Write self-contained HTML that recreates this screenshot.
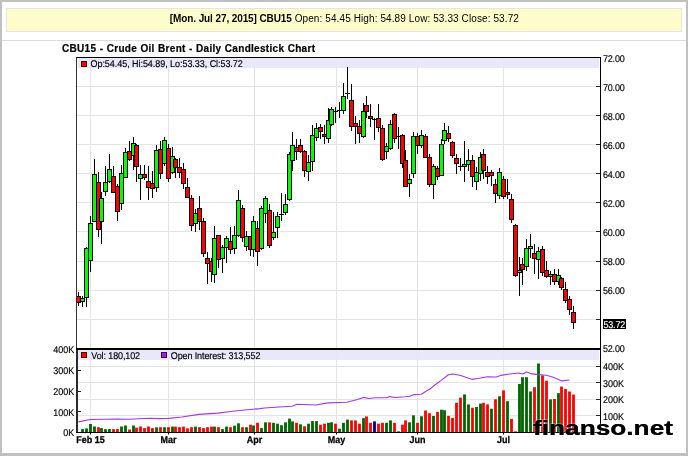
<!DOCTYPE html>
<html><head><meta charset="utf-8">
<style>
html,body{margin:0;padding:0;background:#fff;}
body{width:688px;height:456px;overflow:hidden;position:relative;font-family:"Liberation Sans",Arial,sans-serif;}
.fr{position:absolute;background:#c0c0c0;}
#info{position:absolute;left:6px;top:8px;width:676px;height:24px;box-sizing:border-box;background:#fffccc;border:1px solid #e4e4e4;text-align:left;padding-left:162.8px;font-size:10px;line-height:20.4px;letter-spacing:0.1px;color:#000;white-space:nowrap;}
#sep{position:absolute;left:2px;top:40px;width:684px;height:1px;background:#ddd;}
#info b{letter-spacing:-0.1px}
svg{position:absolute;left:0;top:0;}
text{font-family:"Liberation Sans",Arial,sans-serif;}
</style></head><body>
<div class="fr" style="left:0;top:0;width:688px;height:2px"></div><div class="fr" style="left:0;top:0;width:1.5px;height:456px"></div><div class="fr" style="left:685.8px;top:0;width:2.2px;height:456px"></div><div class="fr" style="left:0;top:453.4px;width:688px;height:2.6px"></div>
<div id="info"><b>[Mon. Jul 27, 2015] CBU15</b> Open: 54.45 High: 54.89 Low: 53.33 Close: 53.72</div>
<div id="sep"></div>
<svg width="688" height="456" viewBox="0 0 688 456">
<text x="62" y="51.7" font-size="10" font-weight="bold" stroke="#000" stroke-width="0.2" style="word-spacing:0.3px;letter-spacing:0.3px">CBU15 - Crude Oil Brent - Daily Candlestick Chart</text>
<rect x="77" y="86" width="523" height="1" fill="#e4e4e4"/>
<rect x="77" y="115" width="523" height="1" fill="#e4e4e4"/>
<rect x="77" y="144" width="523" height="1" fill="#e4e4e4"/>
<rect x="77" y="173" width="523" height="1" fill="#e4e4e4"/>
<rect x="77" y="202" width="523" height="1" fill="#e4e4e4"/>
<rect x="77" y="231" width="523" height="1" fill="#e4e4e4"/>
<rect x="77" y="261" width="523" height="1" fill="#e4e4e4"/>
<rect x="77" y="290" width="523" height="1" fill="#e4e4e4"/>
<rect x="77" y="319" width="523" height="1" fill="#e4e4e4"/>
<rect x="90" y="58" width="1" height="290" fill="#e4e4e4"/>
<rect x="90" y="350" width="1" height="82" fill="#e4e4e4"/>
<rect x="168" y="58" width="1" height="290" fill="#e4e4e4"/>
<rect x="168" y="350" width="1" height="82" fill="#e4e4e4"/>
<rect x="254" y="58" width="1" height="290" fill="#e4e4e4"/>
<rect x="254" y="350" width="1" height="82" fill="#e4e4e4"/>
<rect x="336" y="58" width="1" height="290" fill="#e4e4e4"/>
<rect x="336" y="350" width="1" height="82" fill="#e4e4e4"/>
<rect x="417" y="58" width="1" height="290" fill="#e4e4e4"/>
<rect x="417" y="350" width="1" height="82" fill="#e4e4e4"/>
<rect x="503" y="58" width="1" height="290" fill="#e4e4e4"/>
<rect x="503" y="350" width="1" height="82" fill="#e4e4e4"/>
<rect x="77" y="415" width="523" height="1" fill="#e4e4e4"/>
<rect x="77" y="399" width="523" height="1" fill="#e4e4e4"/>
<rect x="77" y="382" width="523" height="1" fill="#e4e4e4"/>
<rect x="77" y="366" width="523" height="1" fill="#e4e4e4"/>
<rect x="78" y="58" width="521" height="10" fill="#e6e6fa" fill-opacity="0.9"/>
<rect x="78" y="350" width="521" height="10" fill="#e6e6fa" fill-opacity="0.9"/>
<!--CANDLES-->
<rect x="78" y="292" width="1" height="14" fill="#000"/>
<rect x="76.5" y="296.5" width="4" height="6" fill="#ff0000" stroke="#000" stroke-width="1"/>
<rect x="82" y="296" width="1" height="11" fill="#000"/>
<rect x="80.5" y="298.5" width="4" height="3" fill="#00ff00" stroke="#000" stroke-width="1"/>
<rect x="86" y="247" width="1" height="60" fill="#000"/>
<rect x="84.5" y="248.5" width="4" height="49" fill="#00ff00" stroke="#000" stroke-width="1"/>
<rect x="90" y="216" width="1" height="56" fill="#000"/>
<rect x="88.5" y="223.5" width="4" height="37" fill="#00ff00" stroke="#000" stroke-width="1"/>
<rect x="94" y="159" width="1" height="63" fill="#000"/>
<rect x="92.5" y="174.5" width="4" height="47" fill="#00ff00" stroke="#000" stroke-width="1"/>
<rect x="98" y="172" width="1" height="65" fill="#000"/>
<rect x="96.5" y="182.5" width="4" height="47" fill="#ff0000" stroke="#000" stroke-width="1"/>
<rect x="101" y="192" width="1" height="52" fill="#000"/>
<rect x="99.5" y="198.5" width="4" height="23" fill="#00ff00" stroke="#000" stroke-width="1"/>
<rect x="105" y="166" width="1" height="30" fill="#000"/>
<rect x="103.5" y="182.5" width="4" height="9" fill="#00ff00" stroke="#000" stroke-width="1"/>
<rect x="109" y="154" width="1" height="29" fill="#000"/>
<rect x="107.5" y="169.5" width="4" height="12" fill="#00ff00" stroke="#000" stroke-width="1"/>
<rect x="113" y="166" width="1" height="27" fill="#000"/>
<rect x="111.5" y="176.5" width="4" height="16" fill="#ff0000" stroke="#000" stroke-width="1"/>
<rect x="117" y="184" width="1" height="37" fill="#000"/>
<rect x="115.5" y="186.5" width="4" height="25" fill="#ff0000" stroke="#000" stroke-width="1"/>
<rect x="121" y="165" width="1" height="45" fill="#000"/>
<rect x="119.5" y="173.5" width="4" height="30" fill="#00ff00" stroke="#000" stroke-width="1"/>
<rect x="125" y="148" width="1" height="30" fill="#000"/>
<rect x="123.5" y="152.5" width="4" height="25" fill="#00ff00" stroke="#000" stroke-width="1"/>
<rect x="129" y="141" width="1" height="20" fill="#000"/>
<rect x="127.5" y="151.5" width="4" height="8" fill="#ff0000" stroke="#000" stroke-width="1"/>
<rect x="133" y="137" width="1" height="33" fill="#000"/>
<rect x="131.5" y="143.5" width="4" height="12" fill="#00ff00" stroke="#000" stroke-width="1"/>
<rect x="136" y="144" width="1" height="38" fill="#000"/>
<rect x="134.5" y="145.5" width="4" height="21" fill="#ff0000" stroke="#000" stroke-width="1"/>
<rect x="140" y="165" width="1" height="35" fill="#000"/>
<rect x="138.5" y="174.5" width="4" height="4" fill="#00ff00" stroke="#000" stroke-width="1"/>
<rect x="144" y="165" width="1" height="15" fill="#000"/>
<rect x="142.5" y="174.5" width="4" height="3" fill="#ff0000" stroke="#000" stroke-width="1"/>
<rect x="148" y="166" width="1" height="34" fill="#000"/>
<rect x="146.5" y="181.5" width="4" height="6" fill="#ff0000" stroke="#000" stroke-width="1"/>
<rect x="152" y="171" width="1" height="27" fill="#000"/>
<rect x="150.5" y="183.5" width="4" height="5" fill="#ff0000" stroke="#000" stroke-width="1"/>
<rect x="156" y="145" width="1" height="47" fill="#000"/>
<rect x="154.5" y="150.5" width="4" height="37" fill="#00ff00" stroke="#000" stroke-width="1"/>
<rect x="160" y="141" width="1" height="38" fill="#000"/>
<rect x="158.5" y="149.5" width="4" height="24" fill="#ff0000" stroke="#000" stroke-width="1"/>
<rect x="164" y="137" width="1" height="29" fill="#000"/>
<rect x="162.5" y="140.5" width="4" height="23" fill="#00ff00" stroke="#000" stroke-width="1"/>
<rect x="168" y="144" width="1" height="38" fill="#000"/>
<rect x="166.5" y="148.5" width="4" height="30" fill="#ff0000" stroke="#000" stroke-width="1"/>
<rect x="172" y="147" width="1" height="27" fill="#000"/>
<rect x="170.5" y="156.5" width="4" height="16" fill="#00ff00" stroke="#000" stroke-width="1"/>
<rect x="175" y="158" width="1" height="20" fill="#000"/>
<rect x="173.5" y="159.5" width="4" height="8" fill="#ff0000" stroke="#000" stroke-width="1"/>
<rect x="179" y="158" width="1" height="20" fill="#000"/>
<rect x="177.5" y="167.5" width="4" height="5" fill="#ff0000" stroke="#000" stroke-width="1"/>
<rect x="183" y="163" width="1" height="26" fill="#000"/>
<rect x="181.5" y="169.5" width="4" height="14" fill="#ff0000" stroke="#000" stroke-width="1"/>
<rect x="187" y="178" width="1" height="20" fill="#000"/>
<rect x="185.5" y="187.5" width="4" height="10" fill="#ff0000" stroke="#000" stroke-width="1"/>
<rect x="191" y="195" width="1" height="36" fill="#000"/>
<rect x="189.5" y="198.5" width="4" height="27" fill="#ff0000" stroke="#000" stroke-width="1"/>
<rect x="195" y="209" width="1" height="23" fill="#000"/>
<rect x="193.5" y="213.5" width="4" height="10" fill="#00ff00" stroke="#000" stroke-width="1"/>
<rect x="199" y="196" width="1" height="34" fill="#000"/>
<rect x="197.5" y="208.5" width="4" height="13" fill="#ff0000" stroke="#000" stroke-width="1"/>
<rect x="203" y="218" width="1" height="39" fill="#000"/>
<rect x="201.5" y="221.5" width="4" height="32" fill="#ff0000" stroke="#000" stroke-width="1"/>
<rect x="207" y="252" width="1" height="32" fill="#000"/>
<rect x="205.5" y="258.5" width="4" height="5" fill="#ff0000" stroke="#000" stroke-width="1"/>
<rect x="211" y="258" width="1" height="24" fill="#000"/>
<rect x="209.5" y="261.5" width="4" height="10" fill="#ff0000" stroke="#000" stroke-width="1"/>
<rect x="214" y="226" width="1" height="57" fill="#000"/>
<rect x="212.5" y="238.5" width="4" height="36" fill="#00ff00" stroke="#000" stroke-width="1"/>
<rect x="218" y="236" width="1" height="32" fill="#000"/>
<rect x="216.5" y="235.5" width="4" height="24" fill="#ff0000" stroke="#000" stroke-width="1"/>
<rect x="222" y="245" width="1" height="28" fill="#000"/>
<rect x="220.5" y="247.5" width="4" height="11" fill="#00ff00" stroke="#000" stroke-width="1"/>
<rect x="226" y="236" width="1" height="27" fill="#000"/>
<rect x="224.5" y="238.5" width="4" height="9" fill="#00ff00" stroke="#000" stroke-width="1"/>
<rect x="230" y="227" width="1" height="27" fill="#000"/>
<rect x="228.5" y="241.5" width="4" height="8" fill="#ff0000" stroke="#000" stroke-width="1"/>
<rect x="234" y="226" width="1" height="28" fill="#000"/>
<rect x="232.5" y="235.5" width="4" height="13" fill="#00ff00" stroke="#000" stroke-width="1"/>
<rect x="238" y="190" width="1" height="47" fill="#000"/>
<rect x="236.5" y="200.5" width="4" height="35" fill="#00ff00" stroke="#000" stroke-width="1"/>
<rect x="242" y="205" width="1" height="37" fill="#000"/>
<rect x="240.5" y="208.5" width="4" height="29" fill="#ff0000" stroke="#000" stroke-width="1"/>
<rect x="246" y="231" width="1" height="20" fill="#000"/>
<rect x="244.5" y="236.5" width="4" height="10" fill="#00ff00" stroke="#000" stroke-width="1"/>
<rect x="250" y="237" width="1" height="19" fill="#000"/>
<rect x="248.5" y="236.5" width="4" height="13" fill="#ff0000" stroke="#000" stroke-width="1"/>
<rect x="253" y="216" width="1" height="41" fill="#000"/>
<rect x="251.5" y="221.5" width="4" height="28" fill="#00ff00" stroke="#000" stroke-width="1"/>
<rect x="257" y="221" width="1" height="45" fill="#000"/>
<rect x="255.5" y="228.5" width="4" height="23" fill="#ff0000" stroke="#000" stroke-width="1"/>
<rect x="261" y="206" width="1" height="44" fill="#000"/>
<rect x="259.5" y="208.5" width="4" height="40" fill="#00ff00" stroke="#000" stroke-width="1"/>
<rect x="265" y="196" width="1" height="27" fill="#000"/>
<rect x="263.5" y="198.5" width="4" height="15" fill="#00ff00" stroke="#000" stroke-width="1"/>
<rect x="269" y="204" width="1" height="44" fill="#000"/>
<rect x="267.5" y="210.5" width="4" height="35" fill="#ff0000" stroke="#000" stroke-width="1"/>
<rect x="273" y="212" width="1" height="28" fill="#000"/>
<rect x="271.5" y="232.5" width="4" height="5" fill="#00ff00" stroke="#000" stroke-width="1"/>
<rect x="277" y="212" width="1" height="26" fill="#000"/>
<rect x="275.5" y="216.5" width="4" height="11" fill="#00ff00" stroke="#000" stroke-width="1"/>
<rect x="281" y="193" width="1" height="28" fill="#000"/>
<rect x="279" y="214" width="5" height="1" fill="#000"/>
<rect x="285" y="194" width="1" height="21" fill="#000"/>
<rect x="283.5" y="204.5" width="4" height="8" fill="#00ff00" stroke="#000" stroke-width="1"/>
<rect x="289" y="152" width="1" height="49" fill="#000"/>
<rect x="287.5" y="154.5" width="4" height="45" fill="#00ff00" stroke="#000" stroke-width="1"/>
<rect x="292" y="132" width="1" height="39" fill="#000"/>
<rect x="290.5" y="145.5" width="4" height="15" fill="#00ff00" stroke="#000" stroke-width="1"/>
<rect x="296" y="139" width="1" height="21" fill="#000"/>
<rect x="294.5" y="147.5" width="4" height="4" fill="#ff0000" stroke="#000" stroke-width="1"/>
<rect x="300" y="139" width="1" height="14" fill="#000"/>
<rect x="298.5" y="145.5" width="4" height="6" fill="#ff0000" stroke="#000" stroke-width="1"/>
<rect x="304" y="150" width="1" height="27" fill="#000"/>
<rect x="302.5" y="151.5" width="4" height="19" fill="#ff0000" stroke="#000" stroke-width="1"/>
<rect x="308" y="155" width="1" height="26" fill="#000"/>
<rect x="306.5" y="162.5" width="4" height="9" fill="#00ff00" stroke="#000" stroke-width="1"/>
<rect x="312" y="125" width="1" height="46" fill="#000"/>
<rect x="310.5" y="135.5" width="4" height="26" fill="#00ff00" stroke="#000" stroke-width="1"/>
<rect x="316" y="123" width="1" height="18" fill="#000"/>
<rect x="314.5" y="128.5" width="4" height="9" fill="#00ff00" stroke="#000" stroke-width="1"/>
<rect x="320" y="124" width="1" height="15" fill="#000"/>
<rect x="318.5" y="127.5" width="4" height="4" fill="#ff0000" stroke="#000" stroke-width="1"/>
<rect x="324" y="125" width="1" height="19" fill="#000"/>
<rect x="322.5" y="134.5" width="4" height="2" fill="#ff0000" stroke="#000" stroke-width="1"/>
<rect x="328" y="108" width="1" height="35" fill="#000"/>
<rect x="326.5" y="120.5" width="4" height="18" fill="#00ff00" stroke="#000" stroke-width="1"/>
<rect x="331" y="107" width="1" height="19" fill="#000"/>
<rect x="329.5" y="109.5" width="4" height="15" fill="#00ff00" stroke="#000" stroke-width="1"/>
<rect x="335" y="107" width="1" height="16" fill="#000"/>
<rect x="333" y="111" width="5" height="1" fill="#000"/>
<rect x="339" y="102" width="1" height="16" fill="#000"/>
<rect x="337" y="110" width="5" height="1" fill="#000"/>
<rect x="343" y="83" width="1" height="31" fill="#000"/>
<rect x="341.5" y="96.5" width="4" height="14" fill="#00ff00" stroke="#000" stroke-width="1"/>
<rect x="347" y="67" width="1" height="32" fill="#000"/>
<rect x="345" y="93" width="5" height="1" fill="#000"/>
<rect x="351" y="84" width="1" height="47" fill="#000"/>
<rect x="349.5" y="100.5" width="4" height="26" fill="#ff0000" stroke="#000" stroke-width="1"/>
<rect x="355" y="116" width="1" height="28" fill="#000"/>
<rect x="353.5" y="123.5" width="4" height="3" fill="#ff0000" stroke="#000" stroke-width="1"/>
<rect x="359" y="120" width="1" height="23" fill="#000"/>
<rect x="357.5" y="126.5" width="4" height="7" fill="#ff0000" stroke="#000" stroke-width="1"/>
<rect x="363" y="103" width="1" height="35" fill="#000"/>
<rect x="361.5" y="111.5" width="4" height="25" fill="#00ff00" stroke="#000" stroke-width="1"/>
<rect x="366" y="96" width="1" height="22" fill="#000"/>
<rect x="364.5" y="105.5" width="4" height="6" fill="#ff0000" stroke="#000" stroke-width="1"/>
<rect x="370" y="104" width="1" height="23" fill="#000"/>
<rect x="368.5" y="116.5" width="4" height="2" fill="#ff0000" stroke="#000" stroke-width="1"/>
<rect x="374" y="118" width="1" height="22" fill="#000"/>
<rect x="372" y="119" width="5" height="1" fill="#000"/>
<rect x="378" y="104" width="1" height="28" fill="#000"/>
<rect x="376.5" y="118.5" width="4" height="9" fill="#ff0000" stroke="#000" stroke-width="1"/>
<rect x="382" y="125" width="1" height="36" fill="#000"/>
<rect x="380.5" y="128.5" width="4" height="31" fill="#ff0000" stroke="#000" stroke-width="1"/>
<rect x="386" y="143" width="1" height="16" fill="#000"/>
<rect x="384.5" y="146.5" width="4" height="5" fill="#00ff00" stroke="#000" stroke-width="1"/>
<rect x="390" y="120" width="1" height="30" fill="#000"/>
<rect x="388.5" y="124.5" width="4" height="24" fill="#00ff00" stroke="#000" stroke-width="1"/>
<rect x="394" y="113" width="1" height="30" fill="#000"/>
<rect x="392.5" y="114.5" width="4" height="24" fill="#ff0000" stroke="#000" stroke-width="1"/>
<rect x="398" y="127" width="1" height="22" fill="#000"/>
<rect x="396" y="136" width="5" height="1" fill="#000"/>
<rect x="402" y="134" width="1" height="34" fill="#000"/>
<rect x="400.5" y="135.5" width="4" height="28" fill="#ff0000" stroke="#000" stroke-width="1"/>
<rect x="405" y="150" width="1" height="37" fill="#000"/>
<rect x="403.5" y="160.5" width="4" height="26" fill="#ff0000" stroke="#000" stroke-width="1"/>
<rect x="409" y="174" width="1" height="23" fill="#000"/>
<rect x="407.5" y="179.5" width="4" height="4" fill="#00ff00" stroke="#000" stroke-width="1"/>
<rect x="413" y="132" width="1" height="46" fill="#000"/>
<rect x="411.5" y="136.5" width="4" height="37" fill="#00ff00" stroke="#000" stroke-width="1"/>
<rect x="417" y="133" width="1" height="21" fill="#000"/>
<rect x="415.5" y="136.5" width="4" height="9" fill="#ff0000" stroke="#000" stroke-width="1"/>
<rect x="421" y="130" width="1" height="18" fill="#000"/>
<rect x="419.5" y="135.5" width="4" height="10" fill="#00ff00" stroke="#000" stroke-width="1"/>
<rect x="425" y="134" width="1" height="24" fill="#000"/>
<rect x="423.5" y="136.5" width="4" height="21" fill="#ff0000" stroke="#000" stroke-width="1"/>
<rect x="429" y="154" width="1" height="33" fill="#000"/>
<rect x="427.5" y="157.5" width="4" height="27" fill="#ff0000" stroke="#000" stroke-width="1"/>
<rect x="433" y="164" width="1" height="35" fill="#000"/>
<rect x="431.5" y="166.5" width="4" height="18" fill="#00ff00" stroke="#000" stroke-width="1"/>
<rect x="437" y="166" width="1" height="14" fill="#000"/>
<rect x="435.5" y="168.5" width="4" height="8" fill="#ff0000" stroke="#000" stroke-width="1"/>
<rect x="441" y="139" width="1" height="37" fill="#000"/>
<rect x="439.5" y="144.5" width="4" height="31" fill="#00ff00" stroke="#000" stroke-width="1"/>
<rect x="444" y="123" width="1" height="21" fill="#000"/>
<rect x="442.5" y="130.5" width="4" height="10" fill="#00ff00" stroke="#000" stroke-width="1"/>
<rect x="448" y="126" width="1" height="16" fill="#000"/>
<rect x="446.5" y="133.5" width="4" height="5" fill="#ff0000" stroke="#000" stroke-width="1"/>
<rect x="452" y="141" width="1" height="17" fill="#000"/>
<rect x="450.5" y="142.5" width="4" height="13" fill="#ff0000" stroke="#000" stroke-width="1"/>
<rect x="456" y="154" width="1" height="20" fill="#000"/>
<rect x="454.5" y="158.5" width="4" height="5" fill="#ff0000" stroke="#000" stroke-width="1"/>
<rect x="460" y="158" width="1" height="13" fill="#000"/>
<rect x="458" y="166" width="5" height="1" fill="#000"/>
<rect x="464" y="141" width="1" height="41" fill="#000"/>
<rect x="462.5" y="164.5" width="4" height="2" fill="#00ff00" stroke="#000" stroke-width="1"/>
<rect x="468" y="149" width="1" height="22" fill="#000"/>
<rect x="466.5" y="160.5" width="4" height="4" fill="#00ff00" stroke="#000" stroke-width="1"/>
<rect x="472" y="155" width="1" height="32" fill="#000"/>
<rect x="470.5" y="160.5" width="4" height="16" fill="#ff0000" stroke="#000" stroke-width="1"/>
<rect x="476" y="167" width="1" height="23" fill="#000"/>
<rect x="474.5" y="172.5" width="4" height="9" fill="#00ff00" stroke="#000" stroke-width="1"/>
<rect x="480" y="152" width="1" height="29" fill="#000"/>
<rect x="478.5" y="157.5" width="4" height="16" fill="#00ff00" stroke="#000" stroke-width="1"/>
<rect x="483" y="149" width="1" height="30" fill="#000"/>
<rect x="481.5" y="154.5" width="4" height="16" fill="#ff0000" stroke="#000" stroke-width="1"/>
<rect x="487" y="166" width="1" height="18" fill="#000"/>
<rect x="485.5" y="172.5" width="4" height="4" fill="#ff0000" stroke="#000" stroke-width="1"/>
<rect x="491" y="170" width="1" height="16" fill="#000"/>
<rect x="489.5" y="172.5" width="4" height="3" fill="#ff0000" stroke="#000" stroke-width="1"/>
<rect x="495" y="179" width="1" height="24" fill="#000"/>
<rect x="493.5" y="184.5" width="4" height="9" fill="#ff0000" stroke="#000" stroke-width="1"/>
<rect x="499" y="168" width="1" height="31" fill="#000"/>
<rect x="497.5" y="172.5" width="4" height="23" fill="#00ff00" stroke="#000" stroke-width="1"/>
<rect x="503" y="176" width="1" height="23" fill="#000"/>
<rect x="501.5" y="179.5" width="4" height="17" fill="#ff0000" stroke="#000" stroke-width="1"/>
<rect x="507" y="179" width="1" height="20" fill="#000"/>
<rect x="505.5" y="192.5" width="4" height="2" fill="#ff0000" stroke="#000" stroke-width="1"/>
<rect x="511" y="194" width="1" height="29" fill="#000"/>
<rect x="509.5" y="199.5" width="4" height="20" fill="#ff0000" stroke="#000" stroke-width="1"/>
<rect x="515" y="224" width="1" height="53" fill="#000"/>
<rect x="513.5" y="225.5" width="4" height="50" fill="#ff0000" stroke="#000" stroke-width="1"/>
<rect x="519" y="257" width="1" height="39" fill="#000"/>
<rect x="517.5" y="270.5" width="4" height="2" fill="#00ff00" stroke="#000" stroke-width="1"/>
<rect x="522" y="258" width="1" height="27" fill="#000"/>
<rect x="520.5" y="264.5" width="4" height="5" fill="#ff0000" stroke="#000" stroke-width="1"/>
<rect x="526" y="239" width="1" height="32" fill="#000"/>
<rect x="524.5" y="248.5" width="4" height="18" fill="#00ff00" stroke="#000" stroke-width="1"/>
<rect x="530" y="234" width="1" height="24" fill="#000"/>
<rect x="528.5" y="246.5" width="4" height="2" fill="#00ff00" stroke="#000" stroke-width="1"/>
<rect x="534" y="244" width="1" height="30" fill="#000"/>
<rect x="532.5" y="253.5" width="4" height="5" fill="#ff0000" stroke="#000" stroke-width="1"/>
<rect x="538" y="247" width="1" height="32" fill="#000"/>
<rect x="536.5" y="251.5" width="4" height="8" fill="#00ff00" stroke="#000" stroke-width="1"/>
<rect x="542" y="246" width="1" height="30" fill="#000"/>
<rect x="540.5" y="249.5" width="4" height="23" fill="#ff0000" stroke="#000" stroke-width="1"/>
<rect x="546" y="261" width="1" height="17" fill="#000"/>
<rect x="544.5" y="270.5" width="4" height="6" fill="#ff0000" stroke="#000" stroke-width="1"/>
<rect x="550" y="271" width="1" height="14" fill="#000"/>
<rect x="548.5" y="274.5" width="4" height="2" fill="#00ff00" stroke="#000" stroke-width="1"/>
<rect x="554" y="269" width="1" height="16" fill="#000"/>
<rect x="552.5" y="274.5" width="4" height="7" fill="#ff0000" stroke="#000" stroke-width="1"/>
<rect x="558" y="269" width="1" height="16" fill="#000"/>
<rect x="556.5" y="275.5" width="4" height="6" fill="#00ff00" stroke="#000" stroke-width="1"/>
<rect x="561" y="277" width="1" height="13" fill="#000"/>
<rect x="559.5" y="278.5" width="4" height="9" fill="#ff0000" stroke="#000" stroke-width="1"/>
<rect x="565" y="282" width="1" height="21" fill="#000"/>
<rect x="563.5" y="289.5" width="4" height="11" fill="#ff0000" stroke="#000" stroke-width="1"/>
<rect x="569" y="296" width="1" height="19" fill="#000"/>
<rect x="567.5" y="299.5" width="4" height="10" fill="#ff0000" stroke="#000" stroke-width="1"/>
<rect x="573" y="306" width="1" height="23" fill="#000"/>
<rect x="571.5" y="312.5" width="4" height="10" fill="#ff0000" stroke="#000" stroke-width="1"/>
<rect x="81.1" y="429.1" width="2.8" height="2.9" fill="#006400"/>
<rect x="85.1" y="428.4" width="2.8" height="3.6" fill="#006400"/>
<rect x="89.1" y="424.0" width="2.8" height="8.0" fill="#006400"/>
<rect x="93.1" y="426.5" width="2.8" height="5.5" fill="#006400"/>
<rect x="97.1" y="427.2" width="2.8" height="4.8" fill="#ff0000"/>
<rect x="100.1" y="428.1" width="2.8" height="3.9" fill="#006400"/>
<rect x="104.1" y="429.1" width="2.8" height="2.9" fill="#006400"/>
<rect x="108.1" y="429.1" width="2.8" height="2.9" fill="#006400"/>
<rect x="112.1" y="429.1" width="2.8" height="2.9" fill="#ff0000"/>
<rect x="116.1" y="429.1" width="2.8" height="2.9" fill="#ff0000"/>
<rect x="120.1" y="426.5" width="2.8" height="5.5" fill="#006400"/>
<rect x="124.1" y="425.5" width="2.8" height="6.5" fill="#006400"/>
<rect x="128.1" y="429.5" width="2.8" height="2.5" fill="#ff0000"/>
<rect x="132.1" y="425.5" width="2.8" height="6.5" fill="#006400"/>
<rect x="135.1" y="427.6" width="2.8" height="4.4" fill="#ff0000"/>
<rect x="139.1" y="426.5" width="2.8" height="5.5" fill="#ff0000"/>
<rect x="143.1" y="428.1" width="2.8" height="3.9" fill="#ff0000"/>
<rect x="147.1" y="426.5" width="2.8" height="5.5" fill="#ff0000"/>
<rect x="151.1" y="428.1" width="2.8" height="3.9" fill="#ff0000"/>
<rect x="155.1" y="427.3" width="2.8" height="4.7" fill="#006400"/>
<rect x="159.1" y="427.2" width="2.8" height="4.8" fill="#ff0000"/>
<rect x="163.1" y="427.2" width="2.8" height="4.8" fill="#006400"/>
<rect x="167.1" y="427.2" width="2.8" height="4.8" fill="#ff0000"/>
<rect x="171.1" y="426.6" width="2.8" height="5.4" fill="#006400"/>
<rect x="174.1" y="426.6" width="2.8" height="5.4" fill="#ff0000"/>
<rect x="178.1" y="427.2" width="2.8" height="4.8" fill="#ff0000"/>
<rect x="182.1" y="426.6" width="2.8" height="5.4" fill="#ff0000"/>
<rect x="186.1" y="428.4" width="2.8" height="3.6" fill="#ff0000"/>
<rect x="190.1" y="427.2" width="2.8" height="4.8" fill="#ff0000"/>
<rect x="194.1" y="426.6" width="2.8" height="5.4" fill="#006400"/>
<rect x="198.1" y="427.2" width="2.8" height="4.8" fill="#ff0000"/>
<rect x="202.1" y="428.1" width="2.8" height="3.9" fill="#ff0000"/>
<rect x="206.1" y="427.2" width="2.8" height="4.8" fill="#ff0000"/>
<rect x="210.1" y="426.6" width="2.8" height="5.4" fill="#ff0000"/>
<rect x="213.1" y="426.6" width="2.8" height="5.4" fill="#006400"/>
<rect x="217.1" y="427.2" width="2.8" height="4.8" fill="#ff0000"/>
<rect x="221.1" y="429.1" width="2.8" height="2.9" fill="#006400"/>
<rect x="225.1" y="426.6" width="2.8" height="5.4" fill="#006400"/>
<rect x="229.1" y="427.2" width="2.8" height="4.8" fill="#ff0000"/>
<rect x="233.1" y="425.7" width="2.8" height="6.3" fill="#006400"/>
<rect x="237.1" y="423.3" width="2.8" height="8.7" fill="#006400"/>
<rect x="241.1" y="427.2" width="2.8" height="4.8" fill="#ff0000"/>
<rect x="245.1" y="427.2" width="2.8" height="4.8" fill="#006400"/>
<rect x="249.1" y="424.7" width="2.8" height="7.3" fill="#ff0000"/>
<rect x="252.1" y="425.5" width="2.8" height="6.5" fill="#006400"/>
<rect x="256.1" y="422.8" width="2.8" height="9.2" fill="#ff0000"/>
<rect x="260.1" y="428.1" width="2.8" height="3.9" fill="#006400"/>
<rect x="264.1" y="422.3" width="2.8" height="9.7" fill="#006400"/>
<rect x="268.1" y="422.3" width="2.8" height="9.7" fill="#ff0000"/>
<rect x="272.1" y="422.8" width="2.8" height="9.2" fill="#006400"/>
<rect x="276.1" y="423.7" width="2.8" height="8.3" fill="#006400"/>
<rect x="280.1" y="425.2" width="2.8" height="6.8" fill="#006400"/>
<rect x="284.1" y="422.3" width="2.8" height="9.7" fill="#006400"/>
<rect x="288.1" y="418.6" width="2.8" height="13.4" fill="#006400"/>
<rect x="291.1" y="421.4" width="2.8" height="10.6" fill="#006400"/>
<rect x="295.1" y="422.8" width="2.8" height="9.2" fill="#ff0000"/>
<rect x="299.1" y="424.3" width="2.8" height="7.7" fill="#006400"/>
<rect x="303.1" y="426.2" width="2.8" height="5.8" fill="#ff0000"/>
<rect x="307.1" y="423.7" width="2.8" height="8.3" fill="#006400"/>
<rect x="311.1" y="421.1" width="2.8" height="10.9" fill="#006400"/>
<rect x="315.1" y="421.1" width="2.8" height="10.9" fill="#006400"/>
<rect x="319.1" y="424.7" width="2.8" height="7.3" fill="#ff0000"/>
<rect x="323.1" y="423.7" width="2.8" height="8.3" fill="#ff0000"/>
<rect x="327.1" y="422.8" width="2.8" height="9.2" fill="#006400"/>
<rect x="330.1" y="422.3" width="2.8" height="9.7" fill="#006400"/>
<rect x="334.1" y="423.7" width="2.8" height="8.3" fill="#ff0000"/>
<rect x="338.1" y="428.7" width="2.8" height="3.3" fill="#006400"/>
<rect x="342.1" y="422.8" width="2.8" height="9.2" fill="#006400"/>
<rect x="346.1" y="419.6" width="2.8" height="12.4" fill="#006400"/>
<rect x="350.1" y="420.4" width="2.8" height="11.6" fill="#ff0000"/>
<rect x="354.1" y="420.4" width="2.8" height="11.6" fill="#ff0000"/>
<rect x="358.1" y="423.7" width="2.8" height="8.3" fill="#ff0000"/>
<rect x="362.1" y="418.2" width="2.8" height="13.8" fill="#006400"/>
<rect x="365.1" y="416.4" width="2.8" height="15.6" fill="#ff0000"/>
<rect x="369.1" y="422.8" width="2.8" height="9.2" fill="#ff0000"/>
<rect x="373.1" y="421.4" width="2.8" height="10.6" fill="#000080"/>
<rect x="377.1" y="423.7" width="2.8" height="8.3" fill="#ff0000"/>
<rect x="381.1" y="422.8" width="2.8" height="9.2" fill="#ff0000"/>
<rect x="385.1" y="422.8" width="2.8" height="9.2" fill="#006400"/>
<rect x="389.1" y="420.4" width="2.8" height="11.6" fill="#006400"/>
<rect x="393.1" y="422.8" width="2.8" height="9.2" fill="#ff0000"/>
<rect x="397.1" y="431.3" width="2.8" height="0.7" fill="#006400"/>
<rect x="401.1" y="424.7" width="2.8" height="7.3" fill="#ff0000"/>
<rect x="404.1" y="420.4" width="2.8" height="11.6" fill="#ff0000"/>
<rect x="408.1" y="422.3" width="2.8" height="9.7" fill="#006400"/>
<rect x="412.1" y="415.3" width="2.8" height="16.7" fill="#006400"/>
<rect x="416.1" y="422.8" width="2.8" height="9.2" fill="#ff0000"/>
<rect x="420.1" y="416.3" width="2.8" height="15.7" fill="#006400"/>
<rect x="424.1" y="410.5" width="2.8" height="21.5" fill="#ff0000"/>
<rect x="428.1" y="413.2" width="2.8" height="18.8" fill="#ff0000"/>
<rect x="432.1" y="416.0" width="2.8" height="16.0" fill="#006400"/>
<rect x="436.1" y="412.0" width="2.8" height="20.0" fill="#ff0000"/>
<rect x="440.1" y="409.7" width="2.8" height="22.3" fill="#006400"/>
<rect x="443.1" y="410.2" width="2.8" height="21.8" fill="#006400"/>
<rect x="447.1" y="415.9" width="2.8" height="16.1" fill="#ff0000"/>
<rect x="451.1" y="417.9" width="2.8" height="14.1" fill="#ff0000"/>
<rect x="455.1" y="402.8" width="2.8" height="29.2" fill="#ff0000"/>
<rect x="459.1" y="397.7" width="2.8" height="34.3" fill="#ff0000"/>
<rect x="463.1" y="394.4" width="2.8" height="37.6" fill="#006400"/>
<rect x="467.1" y="404.4" width="2.8" height="27.6" fill="#006400"/>
<rect x="471.1" y="407.7" width="2.8" height="24.3" fill="#ff0000"/>
<rect x="475.1" y="407.0" width="2.8" height="25.0" fill="#006400"/>
<rect x="479.1" y="403.6" width="2.8" height="28.4" fill="#006400"/>
<rect x="482.1" y="402.8" width="2.8" height="29.2" fill="#ff0000"/>
<rect x="486.1" y="404.4" width="2.8" height="27.6" fill="#ff0000"/>
<rect x="490.1" y="408.7" width="2.8" height="23.3" fill="#006400"/>
<rect x="494.1" y="399.3" width="2.8" height="32.7" fill="#ff0000"/>
<rect x="498.1" y="396.3" width="2.8" height="35.7" fill="#006400"/>
<rect x="502.1" y="390.4" width="2.8" height="41.6" fill="#ff0000"/>
<rect x="506.1" y="401.2" width="2.8" height="30.8" fill="#006400"/>
<rect x="510.1" y="418.9" width="2.8" height="13.1" fill="#ff0000"/>
<rect x="514.1" y="431.3" width="2.8" height="0.7" fill="#ff0000"/>
<rect x="518.1" y="384.0" width="2.8" height="48.0" fill="#006400"/>
<rect x="521.1" y="377.2" width="2.8" height="54.8" fill="#006400"/>
<rect x="525.1" y="377.2" width="2.8" height="54.8" fill="#006400"/>
<rect x="529.1" y="391.5" width="2.8" height="40.5" fill="#006400"/>
<rect x="533.1" y="387.2" width="2.8" height="44.8" fill="#ff0000"/>
<rect x="537.1" y="363.5" width="2.8" height="68.5" fill="#006400"/>
<rect x="541.1" y="375.4" width="2.8" height="56.6" fill="#ff0000"/>
<rect x="545.1" y="380.7" width="2.8" height="51.3" fill="#ff0000"/>
<rect x="549.1" y="399.4" width="2.8" height="32.6" fill="#006400"/>
<rect x="553.1" y="399.0" width="2.8" height="33.0" fill="#ff0000"/>
<rect x="557.1" y="393.1" width="2.8" height="38.9" fill="#006400"/>
<rect x="560.1" y="386.6" width="2.8" height="45.4" fill="#ff0000"/>
<rect x="564.1" y="389.0" width="2.8" height="43.0" fill="#ff0000"/>
<rect x="568.1" y="391.5" width="2.8" height="40.5" fill="#ff0000"/>
<rect x="572.1" y="394.6" width="2.8" height="37.4" fill="#ff0000"/>
<polyline points="78.5,421.9 90.0,419.5 117.6,419.0 129.0,419.3 149.6,418.3 158.0,418.6 168.7,418.4 181.8,417.0 199.0,414.4 218.0,413.1 232.7,411.3 247.0,409.7 260.0,408.6 264.5,408.0 279.0,407.0 292.0,406.2 297.0,404.3 315.4,405.0 328.5,402.9 340.0,402.5 347.0,402.2 357.5,399.5 363.3,397.4 369.0,398.5 375.0,397.8 386.5,397.8 390.0,396.6 395.0,397.5 405.4,396.8 409.8,396.3 414.0,394.6 421.4,394.2 427.2,390.5 430.0,389.0 434.6,385.2 440.8,380.6 448.4,374.8 453.0,374.0 460.7,375.5 472.2,379.4 479.2,378.3 487.6,376.8 496.0,377.0 500.7,375.4 509.9,374.0 518.7,373.0 522.7,374.0 526.6,372.0 530.6,373.6 538.0,374.6 546.4,375.2 553.3,377.2 561.8,380.9 569.5,380.0" fill="none" stroke="#a335f0" stroke-width="1.1" stroke-linejoin="round"/>
<rect x="76" y="57" width="525" height="1" fill="#000"/>
<rect x="76" y="57" width="1" height="292" fill="#333"/>
<rect x="76" y="348" width="2" height="85" fill="#2a2a2a"/>
<rect x="600" y="57" width="1" height="376" fill="#000"/>
<rect x="76" y="432" width="525" height="1" fill="#000"/>
<rect x="76" y="348" width="525" height="2" fill="#000"/>
<rect x="596" y="86" width="4" height="1" fill="#222"/>
<rect x="596" y="115" width="4" height="1" fill="#222"/>
<rect x="596" y="144" width="4" height="1" fill="#222"/>
<rect x="596" y="173" width="4" height="1" fill="#222"/>
<rect x="596" y="202" width="4" height="1" fill="#222"/>
<rect x="596" y="231" width="4" height="1" fill="#222"/>
<rect x="596" y="261" width="4" height="1" fill="#222"/>
<rect x="596" y="290" width="4" height="1" fill="#222"/>
<rect x="596" y="319" width="4" height="1" fill="#222"/>
<rect x="78" y="411" width="3" height="1" fill="#222"/>
<rect x="78" y="391" width="3" height="1" fill="#222"/>
<rect x="78" y="370" width="3" height="1" fill="#222"/>
<rect x="596" y="415" width="4" height="1" fill="#222"/>
<rect x="596" y="399" width="4" height="1" fill="#222"/>
<rect x="596" y="382" width="4" height="1" fill="#222"/>
<rect x="596" y="366" width="4" height="1" fill="#222"/>
<rect x="90" y="432" width="1" height="2.5" fill="#000"/>
<rect x="168" y="432" width="1" height="2.5" fill="#000"/>
<rect x="254" y="432" width="1" height="2.5" fill="#000"/>
<rect x="336" y="432" width="1" height="2.5" fill="#000"/>
<rect x="417" y="432" width="1" height="2.5" fill="#000"/>
<rect x="503" y="432" width="1" height="2.5" fill="#000"/>
<text transform="translate(603,62.0) scale(1,1.09)" font-size="9" text-rendering="geometricPrecision" textLength="21.75" lengthAdjust="spacing" stroke="#000" stroke-width="0.15">72.00</text>
<text transform="translate(603,91.0) scale(1,1.09)" font-size="9" text-rendering="geometricPrecision" textLength="21.75" lengthAdjust="spacing" stroke="#000" stroke-width="0.15">70.00</text>
<text transform="translate(603,120.0) scale(1,1.09)" font-size="9" text-rendering="geometricPrecision" textLength="21.75" lengthAdjust="spacing" stroke="#000" stroke-width="0.15">68.00</text>
<text transform="translate(603,149.0) scale(1,1.09)" font-size="9" text-rendering="geometricPrecision" textLength="21.75" lengthAdjust="spacing" stroke="#000" stroke-width="0.15">66.00</text>
<text transform="translate(603,178.0) scale(1,1.09)" font-size="9" text-rendering="geometricPrecision" textLength="21.75" lengthAdjust="spacing" stroke="#000" stroke-width="0.15">64.00</text>
<text transform="translate(603,207.0) scale(1,1.09)" font-size="9" text-rendering="geometricPrecision" textLength="21.75" lengthAdjust="spacing" stroke="#000" stroke-width="0.15">62.00</text>
<text transform="translate(603,236.0) scale(1,1.09)" font-size="9" text-rendering="geometricPrecision" textLength="21.75" lengthAdjust="spacing" stroke="#000" stroke-width="0.15">60.00</text>
<text transform="translate(603,265.0) scale(1,1.09)" font-size="9" text-rendering="geometricPrecision" textLength="21.75" lengthAdjust="spacing" stroke="#000" stroke-width="0.15">58.00</text>
<text transform="translate(603,294.0) scale(1,1.09)" font-size="9" text-rendering="geometricPrecision" textLength="21.75" lengthAdjust="spacing" stroke="#000" stroke-width="0.15">56.00</text>
<text transform="translate(603,352.0) scale(1,1.09)" font-size="9" text-rendering="geometricPrecision" textLength="21.75" lengthAdjust="spacing" stroke="#000" stroke-width="0.15">52.00</text>
<rect x="603" y="319" width="23" height="10" fill="#000"/>
<text transform="translate(603.5,328.0) scale(1,1.09)" font-size="9" text-rendering="geometricPrecision" textLength="21.75" lengthAdjust="spacing" fill="#fff" stroke="#fff" stroke-width="0.15">53.72</text>
<text transform="translate(74.3,436.0) scale(1,1.09)" font-size="9" text-rendering="geometricPrecision" text-anchor="end" stroke="#000" stroke-width="0.15">0K</text>
<text transform="translate(74.3,416.0) scale(1,1.09)" font-size="9" text-rendering="geometricPrecision" text-anchor="end" stroke="#000" stroke-width="0.15">100K</text>
<text transform="translate(74.3,395.0) scale(1,1.09)" font-size="9" text-rendering="geometricPrecision" text-anchor="end" stroke="#000" stroke-width="0.15">200K</text>
<text transform="translate(74.3,374.0) scale(1,1.09)" font-size="9" text-rendering="geometricPrecision" text-anchor="end" stroke="#000" stroke-width="0.15">300K</text>
<text transform="translate(74.3,353.0) scale(1,1.09)" font-size="9" text-rendering="geometricPrecision" text-anchor="end" stroke="#000" stroke-width="0.15">400K</text>
<text transform="translate(603,420.0) scale(1,1.09)" font-size="9" text-rendering="geometricPrecision" stroke="#000" stroke-width="0.15">100K</text>
<text transform="translate(603,403.0) scale(1,1.09)" font-size="9" text-rendering="geometricPrecision" stroke="#000" stroke-width="0.15">200K</text>
<text transform="translate(603,387.0) scale(1,1.09)" font-size="9" text-rendering="geometricPrecision" stroke="#000" stroke-width="0.15">300K</text>
<text transform="translate(603,370.0) scale(1,1.09)" font-size="9" text-rendering="geometricPrecision" stroke="#000" stroke-width="0.15">400K</text>
<text transform="translate(90.5,443.4) scale(1,1.09)" font-size="9" text-rendering="geometricPrecision" font-weight="bold" stroke="#000" stroke-width="0.25" text-anchor="middle">Feb 15</text>
<text transform="translate(168.5,443.4) scale(1,1.09)" font-size="9" text-rendering="geometricPrecision" font-weight="bold" stroke="#000" stroke-width="0.25" text-anchor="middle">Mar</text>
<text transform="translate(254.5,443.4) scale(1,1.09)" font-size="9" text-rendering="geometricPrecision" font-weight="bold" stroke="#000" stroke-width="0.25" text-anchor="middle">Apr</text>
<text transform="translate(336.5,443.4) scale(1,1.09)" font-size="9" text-rendering="geometricPrecision" font-weight="bold" stroke="#000" stroke-width="0.25" text-anchor="middle">May</text>
<text transform="translate(417.5,443.4) scale(1,1.09)" font-size="9" text-rendering="geometricPrecision" font-weight="bold" stroke="#000" stroke-width="0.25" text-anchor="middle">Jun</text>
<text transform="translate(503.5,443.4) scale(1,1.09)" font-size="9" text-rendering="geometricPrecision" font-weight="bold" stroke="#000" stroke-width="0.25" text-anchor="middle">Jul</text>
<rect x="81.5" y="61.5" width="5" height="5" fill="#ff0000" stroke="#400000" stroke-width="1"/>
<text transform="translate(90.5,66.8) scale(1,1.09)" font-size="9" text-rendering="geometricPrecision" textLength="152.3" lengthAdjust="spacing" stroke="#000" stroke-width="0.15">Op:54.45, Hi:54.89, Lo:53.33, Cl:53.72</text>
<rect x="81.5" y="352.5" width="5" height="5" fill="#ff0000" stroke="#400000" stroke-width="1"/>
<text transform="translate(91.3,358.8) scale(1,1.09)" font-size="9" text-rendering="geometricPrecision" textLength="48.8" lengthAdjust="spacing" stroke="#000" stroke-width="0.15">Vol: 180,102</text>
<rect x="161.5" y="352.5" width="5" height="5" fill="#a020f0" stroke="#300050" stroke-width="1"/>
<text transform="translate(170.8,358.8) scale(1,1.09)" font-size="9" text-rendering="geometricPrecision" textLength="89.6" lengthAdjust="spacing" stroke="#000" stroke-width="0.15">Open Interest: 313,552</text>
<text x="533" y="434.8" font-size="20" font-weight="bold" font-family="DejaVu Sans, Liberation Sans, sans-serif" textLength="140" lengthAdjust="spacingAndGlyphs" stroke="#fff" stroke-width="1.6" stroke-opacity="0.35" fill="#000">finanso.net</text>
<text x="533" y="434.8" font-size="20" font-weight="bold" font-family="DejaVu Sans, Liberation Sans, sans-serif" textLength="140" lengthAdjust="spacingAndGlyphs" stroke="#000" stroke-width="0.2" fill="#000">finanso.net</text>
</svg>
</body></html>
